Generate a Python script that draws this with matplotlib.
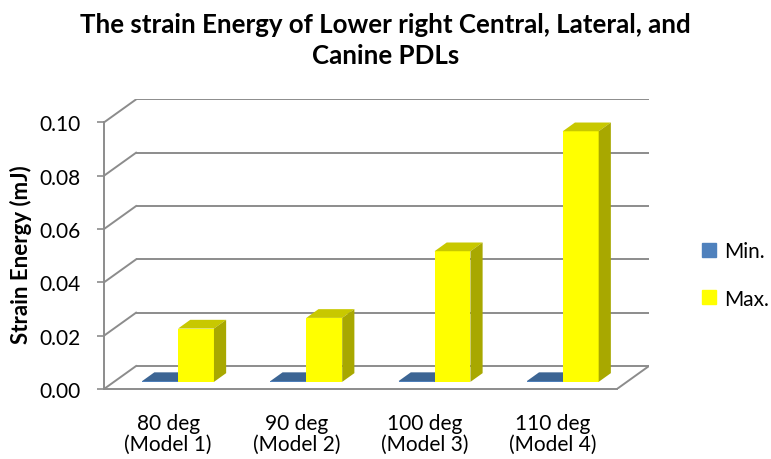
import numpy as np
import matplotlib
matplotlib.use('Agg')
import matplotlib.pyplot as plt
from matplotlib.patches import Polygon, Patch

# chart data
categories = ['80 deg\n(Model 1)', '90 deg\n(Model 2)', '100 deg\n(Model 3)', '110 deg\n(Model 4)']
min_vals = [0.0003, 0.0003, 0.0003, 0.0003]
max_vals = [0.020, 0.024, 0.049, 0.094]
yticks = [0.00, 0.02, 0.04, 0.06, 0.08, 0.10]

plt.rcParams['font.family'] = ['Lato', 'DejaVu Sans']

# pseudo 3d settings (depth offset in data units)
DX = 0.25
DY = 0.00862
z0, z1 = 0.31, 0.69
w = 0.28
grid_col = '#8c8c8c'

fig = plt.figure(figsize=(7.71, 4.60), dpi=100)
ax = fig.add_axes([104/771, 70/460, 545/771, (390-100.4)/460])
ax.set_xlim(-0.5, 3.5 + DX)
ax.set_ylim(0, 0.1 + DY)

# walls and floor
for v in yticks:
  ax.plot([-0.5 + DX, 3.5 + DX], [v + DY, v + DY], color=grid_col, lw=1.4, zorder=1, solid_capstyle='butt')
  ax.plot([-0.5, -0.5 + DX], [v, v + DY], color=grid_col, lw=1.4, zorder=1)
ax.plot([3.5, 3.5 + DX], [0, DY], color=grid_col, lw=1.4, zorder=1)

def bar3d(xs, vals, front, top, side, zo):
  x = np.array(xs)
  ax.bar(x + z0*DX, vals, width=w, bottom=z0*DY, align='edge', color=front, zorder=zo, lw=0)
  for xi, h in zip(x, vals):
    xa = xi + z0*DX
    xb = xi + w + z0*DX
    ax.add_patch(Polygon([(xa, h + z0*DY), (xb, h + z0*DY), (xb + (z1-z0)*DX, h + z1*DY),
                          (xa + (z1-z0)*DX, h + z1*DY)], closed=True, color=top, lw=0, zorder=zo))
    ax.add_patch(Polygon([(xb, z0*DY), (xb + (z1-z0)*DX, z1*DY), (xb + (z1-z0)*DX, h + z1*DY),
                          (xb, h + z0*DY)], closed=True, color=side, lw=0, zorder=zo))

pos = np.arange(len(categories))
bar3d(pos - w, min_vals, '#4f81bd', '#3c6594', '#2f5077', 2)
bar3d(pos, max_vals, '#ffff00', '#c8c800', '#a8a800', 3)

for s in ['top', 'right']:
  ax.spines[s].set_visible(False)
ax.spines['left'].set_bounds(0, 0.1)
ax.spines['bottom'].set_bounds(-0.5, 3.5)
ax.spines['left'].set_color(grid_col)
ax.spines['bottom'].set_color(grid_col)
ax.spines['left'].set_linewidth(1.4)
ax.spines['bottom'].set_linewidth(1.4)

ax.set_yticks(yticks)
ax.set_yticklabels(['%.2f' % v for v in yticks], fontsize=15)
ax.tick_params(axis='y', length=5, width=1.2, color=grid_col, pad=12)
ax.set_xticks(pos)
ax.set_xticklabels(categories, fontsize=15, linespacing=1.1)
ax.tick_params(axis='x', length=0, pad=17)

fig.text(0.5, 1 - 13/460, 'The strain Energy of Lower right Central, Lateral, and\nCanine PDLs',
         ha='center', va='top', fontsize=18.6, fontweight='bold', linespacing=1.35)
fig.text(21/771, 1 - 255/460, 'Strain Energy (mJ)', rotation=90, ha='center', va='center',
         fontsize=16, fontweight='bold')

handles = [Patch(color='#4f81bd', label='Min.'), Patch(color='#ffff00', label='Max.')]
fig.legend(handles=handles, loc='center left', bbox_to_anchor=(702/771, 1 - 276/460), frameon=False,
           fontsize=15, handlelength=0.65, handleheight=0.65, handletextpad=0.4, labelspacing=1.3,
           borderpad=0, borderaxespad=0)

fig.savefig('out.png', dpi=100)
